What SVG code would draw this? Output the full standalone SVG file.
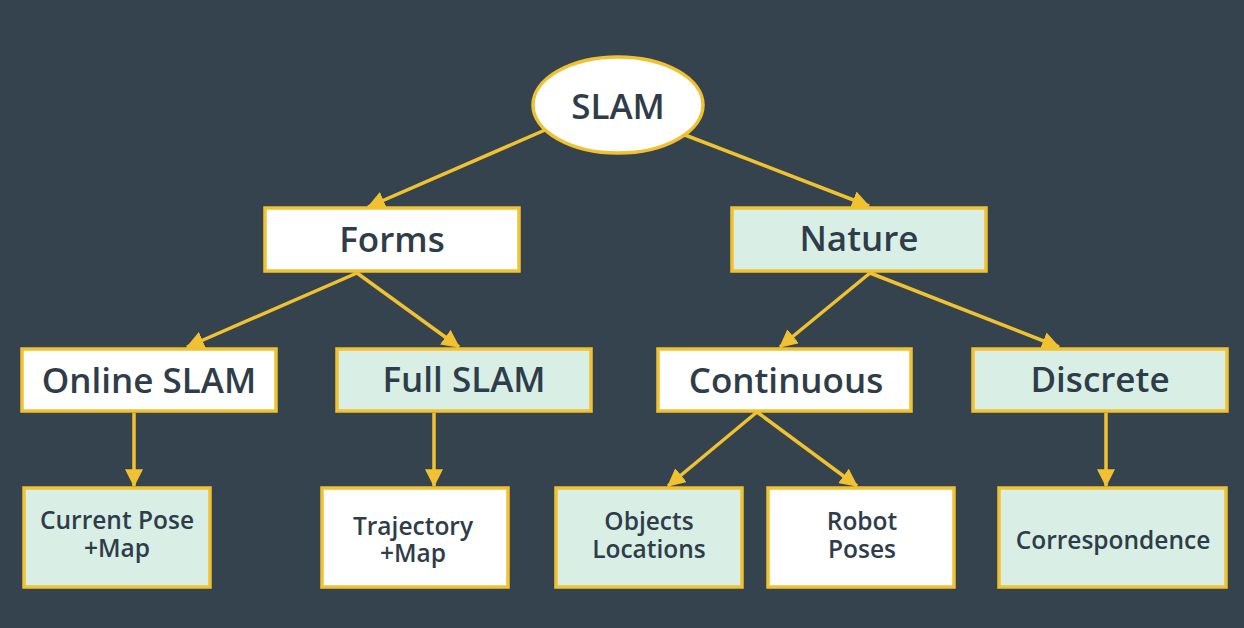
<svg xmlns="http://www.w3.org/2000/svg" width="1244" height="628" viewBox="0 0 1244 628">
<style>
.box{stroke:#f0c232;stroke-width:3.5}
.w{fill:#ffffff}
.g{fill:#d9efe6}
.t{font-family:"Open Sans","Noto Sans","Liberation Sans",sans-serif;fill:#2e3d49;text-anchor:middle;font-weight:600}
.big{font-size:35px}
.small{font-size:24.5px}
.c{stroke:#f0c232;stroke-width:3.5;fill:none;marker-end:url(#ah)}
</style>
<defs>
<marker id="ah" markerUnits="userSpaceOnUse" markerWidth="18" markerHeight="18" viewBox="0 0 16 16" refX="15" refY="8" orient="auto">
<path d="M0,0 L16,8 L0,16 Z" fill="#f0c232"/>
</marker>
</defs>
<rect x="0" y="0" width="1244" height="628" fill="#35434f"/>
<g id="connectors">
<line class="c" x1="545" y1="130" x2="368" y2="207"/>
<line class="c" x1="685" y1="135" x2="869" y2="206"/>
<line class="c" x1="357" y1="273" x2="187" y2="347"/>
<line class="c" x1="357" y1="273" x2="459" y2="347"/>
<line class="c" x1="870" y1="273" x2="780" y2="347"/>
<line class="c" x1="870" y1="273" x2="1059" y2="347"/>
<line class="c" x1="134" y1="413" x2="134" y2="486"/>
<line class="c" x1="434" y1="413" x2="434" y2="486"/>
<line class="c" x1="757" y1="412" x2="668" y2="486"/>
<line class="c" x1="757" y1="412" x2="857" y2="486"/>
<line class="c" x1="1106" y1="413" x2="1106" y2="486"/>
</g>
<g id="slam">
<ellipse class="box w" cx="618" cy="105" rx="85" ry="48"/>
<text class="t big" x="618" y="119">SLAM</text>
</g>
<g id="forms">
<rect class="box w" x="265" y="208" width="254" height="63"/>
<text class="t big" x="392" y="252">Forms</text>
</g>
<g id="nature">
<rect class="box g" x="732" y="208" width="254" height="63"/>
<text class="t big" x="859" y="251">Nature</text>
</g>
<g id="online-slam">
<rect class="box w" x="22" y="349" width="254" height="62"/>
<text class="t big" x="149" y="393">Online SLAM</text>
</g>
<g id="full-slam">
<rect class="box g" x="337" y="349" width="254" height="62"/>
<text class="t big" x="464" y="392">Full SLAM</text>
</g>
<g id="continuous">
<rect class="box w" x="658" y="349" width="253" height="62"/>
<text class="t big" x="786" y="393">Continuous</text>
</g>
<g id="discrete">
<rect class="box g" x="973" y="349" width="254" height="62"/>
<text class="t big" x="1100" y="392">Discrete</text>
</g>
<g id="current-pose-map">
<rect class="box g" x="24" y="488" width="186" height="99"/>
<text class="t small" x="117" y="529">Current Pose</text>
<text class="t small" x="117" y="557">+Map</text>
</g>
<g id="trajectory-map">
<rect class="box w" x="322" y="488" width="186" height="99"/>
<text class="t small" x="413" y="535">Trajectory</text>
<text class="t small" x="413" y="562">+Map</text>
</g>
<g id="objects-locations">
<rect class="box g" x="556" y="488" width="186" height="99"/>
<text class="t small" x="649" y="530">Objects</text>
<text class="t small" x="649" y="558">Locations</text>
</g>
<g id="robot-poses">
<rect class="box w" x="768" y="488" width="186" height="99"/>
<text class="t small" x="862" y="530">Robot</text>
<text class="t small" x="862" y="558">Poses</text>
</g>
<g id="correspondence">
<rect class="box g" x="999" y="488" width="227" height="99"/>
<text class="t small" x="1113" y="549">Correspondence</text>
</g>
</svg>
